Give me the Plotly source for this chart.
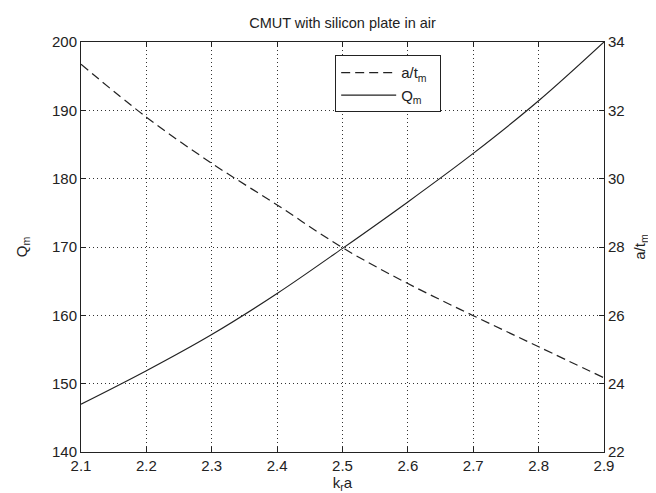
import plotly.graph_objects as go

kra = [2.1, 2.2, 2.3, 2.4, 2.5, 2.6, 2.7, 2.8, 2.9]
q_m = [147.0, 151.9, 157.2, 163.2, 169.8, 176.6, 183.7, 191.4, 200.0]
a_tm = [33.35, 31.8, 30.45, 29.23, 27.98, 26.93, 25.99, 25.08, 24.17]

x_ticks = [2.1, 2.2, 2.3, 2.4, 2.5, 2.6, 2.7, 2.8, 2.9]
x_ticktext = ["2.1", "2.2", "2.3", "2.4", "2.5", "2.6", "2.7", "2.8", "2.9"]
q_ticks = [140, 150, 160, 170, 180, 190, 200]
a_ticks = [22, 24, 26, 28, 30, 32, 34]

FONT = "Liberation Sans Narrow, Arial Narrow, Liberation Sans, Arial, sans-serif"
TFONT = "Liberation Sans, Arial, sans-serif"
TXT = "#222"

fig = go.Figure()
fig.add_trace(go.Scatter(
    x=kra, y=a_tm, name="a/t<sub>m</sub>&nbsp;&nbsp;", yaxis="y2", mode="lines",
    line=dict(color="#222", width=1.2, dash="9px,5px", shape="spline"),
    legendgroup="a"))
fig.add_trace(go.Scatter(
    x=kra, y=q_m, name="Q<sub>m</sub>&nbsp;&nbsp;", yaxis="y", mode="lines",
    line=dict(color="#222", width=1.2, shape="spline"),
    legendgroup="q"))

fig.update_layout(
    width=656, height=493,
    margin=dict(l=73, r=60, t=34, b=49),
    paper_bgcolor="white", plot_bgcolor="white",
    font=dict(family=FONT, size=15, color=TXT),
    title=dict(text="CMUT with silicon plate in air", x=0.5, xanchor="center",
               xref="paper", y=1 - 15 / 493, yanchor="middle",
               font=dict(size=14.5, family=TFONT, color=TXT)),
    showlegend=True,
    legend=dict(x=0.486, y=0.9675, xanchor="left", yanchor="top",
                bgcolor="white", bordercolor="#222", borderwidth=1,
                font=dict(size=15, family=FONT, color=TXT),
                itemwidth=55, tracegroupgap=14, traceorder="normal"),
    xaxis=dict(range=[2.1, 2.9], tickvals=x_ticks, ticktext=x_ticktext,
               showline=True, linecolor="#222", linewidth=1, mirror="ticks",
               ticks="inside", ticklen=5, tickcolor="#222",
               showgrid=True, gridcolor="#333", griddash="1px,3px", gridwidth=1,
               zeroline=False,
               title=dict(text="k<sub>r</sub>a", standoff=2,
                          font=dict(size=15, family=FONT, color=TXT))),
    yaxis=dict(range=[140, 200], tickvals=q_ticks,
               showline=True, linecolor="#222", linewidth=1,
               ticks="inside", ticklen=5, tickcolor="#222",
               showgrid=True, gridcolor="#333", griddash="1px,3px", gridwidth=1,
               zeroline=False,
               title=dict(text="Q<sub>m</sub>", standoff=20,
                          font=dict(size=15, family=FONT, color=TXT))),
    yaxis2=dict(range=[22, 34], tickvals=a_ticks, overlaying="y", side="right",
                showline=True, linecolor="#222", linewidth=1,
                ticks="inside", ticklen=5, tickcolor="#222",
                showgrid=False, zeroline=False,
                title=dict(text="a/t<sub>m</sub>", standoff=10,
                           font=dict(size=15, family=FONT, color=TXT))),
)

fig.write_html("out.html")
